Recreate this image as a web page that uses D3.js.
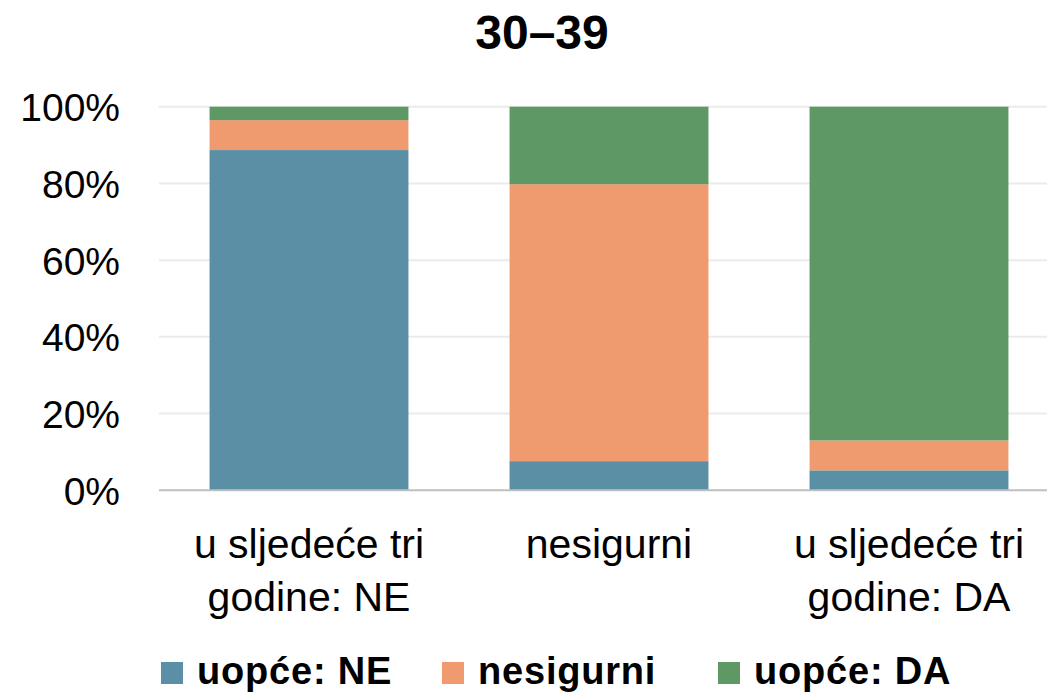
<!DOCTYPE html>
<html>
<head>
<meta charset="utf-8">
<script src="https://cdn.jsdelivr.net/npm/d3@7"></script>
<style>
  html, body { margin: 0; padding: 0; background: #fff; }
  svg { display: block; }
</style>
</head>
<body>
<svg id="chart" width="1047" height="693"></svg>
<script>
const title = "30–39";
const categories = ["u sljedeće tri godine: NE", "nesigurni", "u sljedeće tri godine: DA"];
const categoryLines = [["u sljedeće tri", "godine: NE"], ["nesigurni"], ["u sljedeće tri", "godine: DA"]];
const seriesNames = ["uopće: NE", "nesigurni", "uopće: DA"];
const uopceNE = [88.7, 7.6, 5.2];
const nesigurni = [7.8, 72.2, 7.8];
const uopceDA = [3.5, 20.2, 87.0];
const yTicks = [0, 20, 40, 60, 80, 100];
const colors = ["#5B8FA6", "#EF9B6F", "#5E9865"];

(function () {
const svg = d3.select("#chart");
const W = 1047, H = 693;
const plotLeft = 159, plotRight = 1059, plotTop = 106.7, plotBottom = 490.3;

const rows = categories.map((c, i) => ({cat: c, s0: uopceNE[i], s1: nesigurni[i], s2: uopceDA[i]}));
const stack = d3.stack().keys(["s0", "s1", "s2"]);
const layers = stack(rows);

const x = d3.scaleBand().domain(categories).range([plotLeft, plotRight]).paddingInner(0.337).paddingOuter(0.1685);
const y = d3.scaleLinear().domain([0, 100]).range([plotBottom, plotTop]);

// gridlines
svg.append("g").selectAll("line").data(yTicks.filter(t => t > 0)).join("line")
  .attr("x1", plotLeft).attr("x2", W)
  .attr("y1", d => y(d)).attr("y2", d => y(d))
  .attr("stroke", "#ebebeb").attr("stroke-width", 2);

// bars
svg.append("g").selectAll("g").data(layers).join("g")
  .attr("fill", (d, i) => colors[i])
  .selectAll("rect").data(d => d).join("rect")
  .attr("x", d => x(d.data.cat))
  .attr("width", x.bandwidth())
  .attr("y", d => y(d[1]))
  .attr("height", d => y(d[0]) - y(d[1]));

// baseline axis
svg.append("line").attr("x1", plotLeft).attr("x2", W)
  .attr("y1", y(0)).attr("y2", y(0))
  .attr("stroke", "#bfbfbf").attr("stroke-width", 2);

// y axis labels
const yAxis = d3.axisLeft(y).tickValues(yTicks).tickFormat(d => d + "%").tickSize(0).tickPadding(0);
const yg = svg.append("g").attr("transform", "translate(120,0)").call(yAxis);
yg.select(".domain").remove();
yg.selectAll("text")
  .attr("font-family", "Liberation Sans, Arial, sans-serif")
  .attr("font-size", 39).attr("fill", "#000")
  .attr("dy", "0.36em");

// x axis labels
const xAxis = d3.axisBottom(x).tickSize(0).tickFormat("");
const xg = svg.append("g").attr("transform", `translate(0,${plotBottom})`).call(xAxis);
xg.select(".domain").remove();
xg.selectAll(".tick text").remove();
xg.selectAll(".tick").each(function(d, i) {
  const t = d3.select(this).append("text")
    .attr("text-anchor", "middle")
    .attr("font-family", "Liberation Sans, Arial, sans-serif")
    .attr("font-size", 41).attr("fill", "#000");
  categoryLines[i].forEach((ln, j) => {
    t.append("tspan").attr("x", 0).attr("y", 68 + j * 53).text(ln);
  });
});

// title
svg.append("text").attr("x", 542).attr("y", 49)
  .attr("text-anchor", "middle")
  .attr("font-family", "Liberation Sans, Arial, sans-serif")
  .attr("font-weight", "bold").attr("font-size", 48).attr("fill", "#000")
  .text(title);

// legend
const legendX = [161, 442, 718];
const lg = svg.append("g");
seriesNames.forEach((name, i) => {
  lg.append("rect").attr("x", legendX[i]).attr("y", 662).attr("width", 22).attr("height", 22).attr("fill", colors[i]);
  lg.append("text").attr("x", legendX[i] + 36).attr("y", 684)
    .attr("font-family", "Liberation Sans, Arial, sans-serif")
    .attr("font-weight", "bold").attr("font-size", 38).attr("letter-spacing", 0.8).attr("fill", "#000")
    .text(name);
});
})();
</script>
</body>
</html>
